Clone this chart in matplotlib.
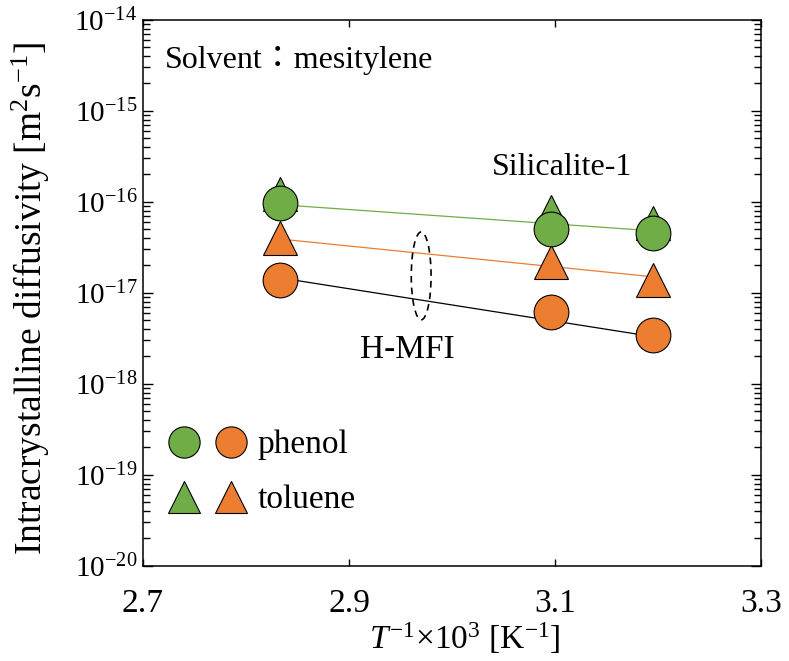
import matplotlib
matplotlib.use('Agg')
import matplotlib.pyplot as plt
from matplotlib.patches import Ellipse
from matplotlib.legend_handler import HandlerTuple

plt.rcParams['font.family'] = ['Liberation Serif', 'Noto Sans CJK JP']
plt.rcParams['mathtext.fontset'] = 'custom'
plt.rcParams['mathtext.rm'] = 'Liberation Serif'
plt.rcParams['mathtext.it'] = 'Liberation Serif:italic'
plt.rcParams['font.size'] = 22

# inverse temperature, 1000/T [1/K]
inv_T = [2.833, 3.096, 3.195]

# diffusivities [m2/s]
sil_phenol = [9.7e-17, 5.0e-17, 4.5e-17]
sil_toluene = [1.23e-16, 7.8e-17, 5.9e-17]
hmfi_phenol = [1.4e-17, 6.1e-18, 3.4e-18]
hmfi_toluene = [4.0e-17, 2.2e-17, 1.4e-17]

# Arrhenius fit lines (end points)
fit_x = [2.833, 3.195]
fit_sil = [9.3e-17, 4.8e-17]
fit_hmfi_tol = [3.9e-17, 1.5e-17]
fit_hmfi_phe = [1.46e-17, 3.3e-18]

green = '#70AD47'
orange = '#ED7D31'

fig = plt.figure(figsize=(7.89, 6.61), dpi=100)
ax = fig.add_axes([0.181, 0.144, 0.784, 0.826])

ax.plot(fit_x, fit_sil, color=green, lw=0.9, zorder=1)
ax.plot(fit_x, fit_hmfi_tol, color=orange, lw=0.9, zorder=1)
ax.plot(fit_x, fit_hmfi_phe, color='black', lw=0.9, zorder=1)

mk = dict(ls='none', mec='black', mew=0.8, ms=25)
g_tri, = ax.plot(inv_T, sil_toluene, marker='^', mfc=green, zorder=2, **mk)
g_cir, = ax.plot(inv_T, sil_phenol, marker='o', mfc=green, zorder=3, **mk)
o_tri, = ax.plot(inv_T, hmfi_toluene, marker='^', mfc=orange, zorder=2, **mk)
o_cir, = ax.plot(inv_T, hmfi_phenol, marker='o', mfc=orange, zorder=3, **mk)

ax.set_yscale('log')
ax.set_xlim(2.7, 3.3)
ax.set_ylim(1e-20, 1e-14)
ax.set_xticks([2.7, 2.9, 3.1, 3.3])
ax.set_xticklabels(['2.7', '2.9', '3.1', '3.3'])
ax.tick_params(axis='both', which='both', direction='in', top=True, right=True, width=1)
ax.tick_params(axis='x', which='major', length=5, pad=16, labelsize=24)
ax.tick_params(axis='y', which='major', length=7, pad=4, labelsize=21)
ax.tick_params(axis='y', which='minor', length=5)
for s in ax.spines.values():
    s.set_linewidth(1.1)

ax.set_xlabel(r'$T^{\mathrm{-1}}$×10$^3$ [K$^{-1}$]', fontsize=24)
ax.set_ylabel(r'Intracrystalline diffusivity [m$^2$s$^{-1}$]', fontsize=27)
ax.xaxis.set_label_coords(0.52, -0.1)
ax.yaxis.set_label_coords(-0.147, 0.49)

ax.text(0.036, 0.925, 'Solvent：mesitylene', transform=ax.transAxes, fontsize=23, va='center')
ax.text(0.678, 0.729, 'Silicalite-1', transform=ax.transAxes, fontsize=23, ha='center', va='center')
ax.text(0.427, 0.396, 'H-MFI', transform=ax.transAxes, fontsize=24, ha='center', va='center')

ax.add_patch(Ellipse((0.45, 0.531), 0.032, 0.161, transform=ax.transAxes,
                     fill=False, ls=(0, (4, 3)), lw=1.2, color='black'))

leg = ax.legend([(g_cir, o_cir), (g_tri, o_tri)], ['phenol', 'toluene'],
                handler_map={tuple: HandlerTuple(ndivide=None, pad=0.6)},
                loc='upper left', bbox_to_anchor=(0.0445, 0.249), frameon=False,
                borderpad=0, borderaxespad=0,
                handlelength=2.22, handletextpad=0.4, labelspacing=0.73,
                fontsize=24, markerscale=0.9)

fig.savefig('out.png', dpi=100)
